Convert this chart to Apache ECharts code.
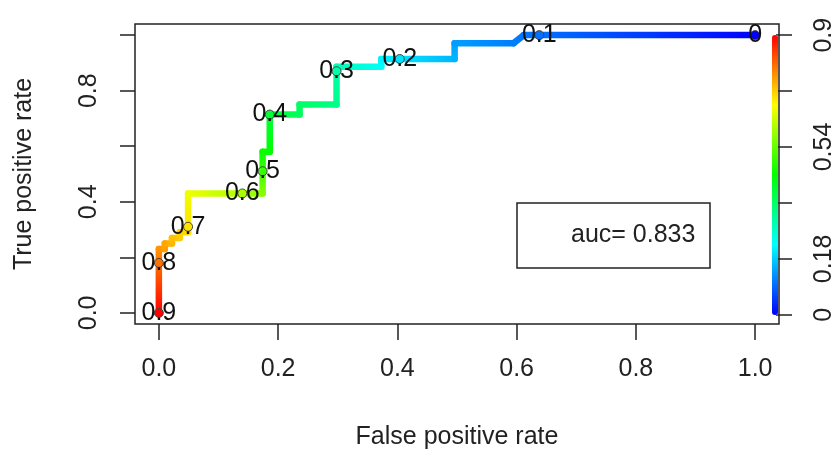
<!DOCTYPE html>
<html>
<head>
<meta charset="utf-8">
<script src="https://cdn.jsdelivr.net/npm/echarts@6/dist/echarts.min.js"></script>
<style>
html, body { margin: 0; padding: 0; background: #fff; }
#chart { width: 837px; height: 455px; }
</style>
</head>
<body>
<div id="chart"></div>
<script>
// ROC curve vertices (false positive rate, true positive rate, cutoff)
var rocFpr = [0, 0, 0, 0.01, 0.01, 0.022, 0.022, 0.035, 0.035, 0.049, 0.049, 0.049, 0.14, 0.174, 0.174, 0.174, 0.186, 0.186,
    0.236, 0.236, 0.298, 0.298, 0.298, 0.373, 0.373, 0.404, 0.496, 0.496, 0.595, 0.612, 0.638, 1.0];
var rocTpr = [0, 0.18, 0.23, 0.23, 0.25, 0.25, 0.27, 0.27, 0.29, 0.29, 0.31, 0.43, 0.43, 0.43, 0.51, 0.58, 0.58, 0.714,
    0.714, 0.75, 0.75, 0.87, 0.886, 0.886, 0.914, 0.914, 0.914, 0.971, 0.971, 1.0, 1.0, 1.0];
var rocCutoff = [0.92, 0.8, 0.77, 0.76, 0.755, 0.74, 0.73, 0.72, 0.715, 0.705, 0.7, 0.66, 0.6, 0.57, 0.5, 0.46, 0.45, 0.4,
    0.37, 0.36, 0.33, 0.3, 0.29, 0.23, 0.215, 0.2, 0.16, 0.14, 0.11, 0.105, 0.1, 0.0];

// printed cutoffs
var markFpr = [0, 0, 0.049, 0.14, 0.174, 0.186, 0.298, 0.404, 0.638, 1.0];
var markTpr = [0, 0.18, 0.31, 0.43, 0.51, 0.714, 0.87, 0.914, 1.0, 1.0];
var markCutoff = [0.9, 0.8, 0.7, 0.6, 0.5, 0.4, 0.3, 0.2, 0.1, 0];
var markText = ['0.9', '0.8', '0.7', '0.6', '0.5', '0.4', '0.3', '0.2', '0.1', '0'];

var axisTicks = [0, 0.2, 0.4, 0.6, 0.8, 1];
var yLabelTicks = [0, 0.4, 0.8];
var keyTicks = [0, 0.18, 0.36, 0.54, 0.72, 0.9];
var keyLabels = [0, 0.18, 0.54, 0.9];
var aucValue = 0.833;

var keyColors = ['#0000ff', '#00ffff', '#00ff00', '#ffff00', '#ff0000'];
var fontName = '"Liberation Sans", Arial, sans-serif';

function rainbow(c) {
    var t = Math.max(0, Math.min(1, c / 0.9));
    return 'hsl(' + ((1 - t) * 240).toFixed(1) + ',100%,50%)';
}

var segData = [];
for (var i = 0; i < rocFpr.length - 1; i++) {
    segData.push([rocFpr[i], rocTpr[i], rocFpr[i + 1], rocTpr[i + 1], rocCutoff[i], rocCutoff[i + 1]]);
}
var markData = markFpr.map(function (x, i) {
    return [x, markTpr[i], markCutoff[i], markText[i]];
});

var chart = echarts.init(document.getElementById('chart'));
var option = {
    animation: false,
    textStyle: { fontFamily: fontName },
    title: {
        text: 'auc= ' + aucValue,
        left: 517,
        top: 203,
        padding: [20, 15, 20, 54],
        borderColor: '#222',
        borderWidth: 1.5,
        textStyle: { fontSize: 25, fontWeight: 'normal', color: '#222', fontFamily: fontName, lineHeight: 25 }
    },
    grid: [
        { left: 135, right: 58, top: 24, bottom: 129, show: true, borderColor: '#222', borderWidth: 1.5, backgroundColor: 'transparent' },
        { left: 772, width: 6, top: 24, bottom: 129 }
    ],
    xAxis: [{
        type: 'value', gridIndex: 0, min: -0.04, max: 1.04,
        name: 'False positive rate', nameLocation: 'middle', nameGap: 101,
        nameTextStyle: { fontSize: 25, color: '#222', fontFamily: fontName },
        axisLine: { show: false, onZero: false },
        splitLine: { show: false },
        axisTick: { show: true, inside: false, length: 16, customValues: axisTicks, lineStyle: { color: '#222', width: 1.5 } },
        axisLabel: {
            customValues: axisTicks, margin: 33, fontSize: 25, color: '#222',
            formatter: function (v) { return v.toFixed(1); }
        }
    }, {
        type: 'value', gridIndex: 1, show: false, min: 0, max: 1
    }],
    yAxis: [{
        type: 'value', gridIndex: 0, min: -0.04, max: 1.04,
        name: 'True positive rate', nameLocation: 'middle', nameGap: 98,
        nameTextStyle: { fontSize: 25, color: '#222', fontFamily: fontName },
        axisLine: { show: false, onZero: false },
        splitLine: { show: false },
        axisTick: { show: true, inside: false, length: 15, customValues: axisTicks, lineStyle: { color: '#222', width: 1.5 } },
        axisLabel: {
            customValues: yLabelTicks, rotate: 90, margin: 33, fontSize: 25, color: '#222',
            formatter: function (v) { return v.toFixed(1); }
        }
    }, {
        type: 'value', gridIndex: 1, position: 'right', min: -0.036, max: 0.936,
        axisLine: { show: false, onZero: false },
        splitLine: { show: false },
        axisTick: { show: true, inside: false, length: 16, customValues: keyTicks, lineStyle: { color: '#222', width: 1.5 } },
        axisLabel: {
            customValues: keyLabels, rotate: 90, margin: 36, fontSize: 25, color: '#222',
            formatter: function (v) { return String(v); }
        }
    }],
    visualMap: {
        type: 'continuous',
        min: 0,
        max: 0.9,
        dimension: 2,
        seriesIndex: 1,
        calculable: false,
        hoverLink: false,
        text: null,
        padding: 0,
        left: 772,
        top: 35,
        itemWidth: 6,
        itemHeight: 280,
        inRange: { color: keyColors }
    },
    series: [{
        type: 'custom',
        xAxisIndex: 0,
        yAxisIndex: 0,
        encode: { x: [0, 2], y: [1, 3] },
        data: segData,
        renderItem: function (params, api) {
            var p1 = api.coord([api.value(0), api.value(1)]);
            var p2 = api.coord([api.value(2), api.value(3)]);
            return {
                type: 'line',
                shape: { x1: p1[0], y1: p1[1], x2: p2[0], y2: p2[1] },
                style: {
                    stroke: new echarts.graphic.LinearGradient(p1[0], p1[1], p2[0], p2[1], [
                        { offset: 0, color: rainbow(api.value(4)) },
                        { offset: 1, color: rainbow(api.value(5)) }
                    ], true),
                    lineWidth: 6.5,
                    lineCap: 'round',
                    fill: null
                }
            };
        }
    }, {
        type: 'scatter',
        xAxisIndex: 0,
        yAxisIndex: 0,
        symbol: 'circle',
        symbolSize: 9,
        data: markData,
        itemStyle: { borderColor: '#444', borderWidth: 1, opacity: 1 },
        label: {
            show: true,
            position: 'inside',
            fontSize: 25,
            color: '#111',
            fontFamily: fontName,
            formatter: function (p) { return p.data[3]; }
        },
        z: 3
    }]
};
chart.setOption(option);
</script>
</body>
</html>
